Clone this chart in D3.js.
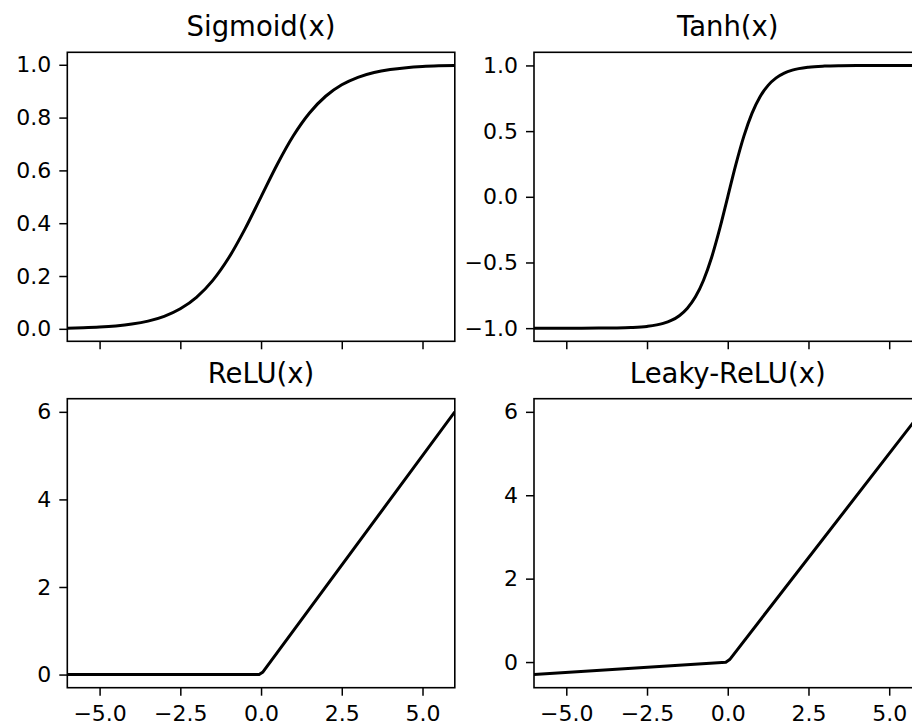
<!DOCTYPE html>
<html>
<head>
<meta charset="utf-8">
<script src="https://cdn.jsdelivr.net/npm/d3@7"></script>
<style>
  html, body { margin: 0; padding: 0; background: #fff; }
  svg { display: block; overflow: hidden; }
  text { font-family: "DejaVu Sans", sans-serif; fill: #000; }
</style>
</head>
<body>
<svg id="chart" width="912" height="726"></svg>
<script>
// ---- data ----
const titles = ["Sigmoid(x)", "Tanh(x)", "ReLU(x)", "Leaky-ReLU(x)"];
const xTicks = [-5.0, -2.5, 0.0, 2.5, 5.0];

const smoothX = [-6, -5.5, -5, -4.5, -4, -3.5, -3, -2.5, -2, -1.5, -1, -0.5, 0,
                 0.5, 1, 1.5, 2, 2.5, 3, 3.5, 4, 4.5, 5, 5.5, 6];
const sigmoidY = [0.0025, 0.0041, 0.0067, 0.0110, 0.0180, 0.0293, 0.0474, 0.0759, 0.1192, 0.1824, 0.2689, 0.3775, 0.5,
                  0.6225, 0.7311, 0.8176, 0.8808, 0.9241, 0.9526, 0.9707, 0.9820, 0.9890, 0.9933, 0.9959, 0.9975];
const tanhX = [-6, -5, -4, -3.5, -3, -2.5, -2, -1.75, -1.5, -1.25, -1, -0.75, -0.5, -0.25, 0,
               0.25, 0.5, 0.75, 1, 1.25, 1.5, 1.75, 2, 2.5, 3, 3.5, 4, 5, 6];
const tanhY = [-1.0, -0.9999, -0.9993, -0.9982, -0.9951, -0.9866, -0.9640, -0.9414, -0.9051, -0.8483, -0.7616, -0.6351, -0.4621, -0.2449, 0,
               0.2449, 0.4621, 0.6351, 0.7616, 0.8483, 0.9051, 0.9414, 0.9640, 0.9866, 0.9951, 0.9982, 0.9993, 0.9999, 1.0];
const reluX = [-6, -0.06, 0.06, 6];
const reluY = [0, 0, 0.06, 6];
const leakyX = [-6, -0.06, 0.06, 6];
const leakyY = [-0.3, -0.003, 0.06, 6];

const sigmoidTicks = [0.0, 0.2, 0.4, 0.6, 0.8, 1.0];
const tanhTicks = [-1.0, -0.5, 0.0, 0.5, 1.0];
const reluTicks = [0, 2, 4, 6];
const leakyTicks = [0, 2, 4, 6];

// ---- layout ----
const svg = d3.select("#chart");
const colLeft = [67.3, 534];
const plotW = 387.5;
const rowTop = [52.3, 398.7];
const plotH = 289;

const panels = [
  { title: titles[0], xs: smoothX, ys: sigmoidY, ticks: sigmoidTicks, fmt: ".1f", col: 0, row: 0, smooth: true, showX: false },
  { title: titles[1], xs: tanhX, ys: tanhY, ticks: tanhTicks, fmt: ".1f", col: 1, row: 0, smooth: true, showX: false },
  { title: titles[2], xs: reluX, ys: reluY, ticks: reluTicks, fmt: "d", col: 0, row: 1, smooth: false, showX: true },
  { title: titles[3], xs: leakyX, ys: leakyY, ticks: leakyTicks, fmt: "d", col: 1, row: 1, smooth: false, showX: true }
];

const tickFont = 22;

panels.forEach((p, i) => {
  const x0 = colLeft[p.col], y0 = rowTop[p.row];
  const g = svg.append("g").attr("transform", `translate(${x0},${y0})`);

  const x = d3.scaleLinear().domain([-6, 6]).range([0, plotW]);
  const ymin = d3.min(p.ys), ymax = d3.max(p.ys);
  const m = (ymax - ymin) * 0.05;
  const y = d3.scaleLinear().domain([ymin - m, ymax + m]).range([plotH, 0]);

  const clipId = "clip" + i;
  g.append("clipPath").attr("id", clipId)
    .append("rect").attr("width", plotW).attr("height", plotH);

  const line = d3.line()
    .x(d => x(d[0])).y(d => y(d[1]))
    .curve(p.smooth ? d3.curveMonotoneX : d3.curveLinear);
  const pts = p.xs.map((v, k) => [v, p.ys[k]]);
  g.append("path").datum(pts)
    .attr("clip-path", `url(#${clipId})`)
    .attr("d", line)
    .attr("fill", "none").attr("stroke", "#000").attr("stroke-width", 3)
    .attr("stroke-linejoin", "round");

  // x axis
  const xa = d3.axisBottom(x).tickValues(xTicks).tickSize(8).tickPadding(10)
    .tickFormat(p.showX ? d3.format(".1f") : () => "");
  const gx = g.append("g").attr("transform", `translate(0,${plotH})`).call(xa);
  gx.select(".domain").remove();
  gx.selectAll("line").attr("stroke", "#000").attr("stroke-width", 1.5);
  gx.selectAll("text").attr("font-size", tickFont).attr("font-family", "DejaVu Sans").attr("fill", "#000");

  // y axis
  const ya = d3.axisLeft(y).tickValues(p.ticks).tickSize(8).tickPadding(8)
    .tickFormat(d3.format(p.fmt));
  const gy = g.append("g").call(ya);
  gy.select(".domain").remove();
  gy.selectAll("line").attr("stroke", "#000").attr("stroke-width", 1.5);
  gy.selectAll("text").attr("font-size", tickFont).attr("font-family", "DejaVu Sans").attr("fill", "#000");

  // frame
  g.append("rect").attr("width", plotW).attr("height", plotH)
    .attr("fill", "none").attr("stroke", "#000").attr("stroke-width", 1.6);

  // title
  g.append("text").attr("x", plotW / 2).attr("y", -16)
    .attr("text-anchor", "middle").attr("font-size", 27.5)
    .text(p.title);
});
</script>
</body>
</html>
